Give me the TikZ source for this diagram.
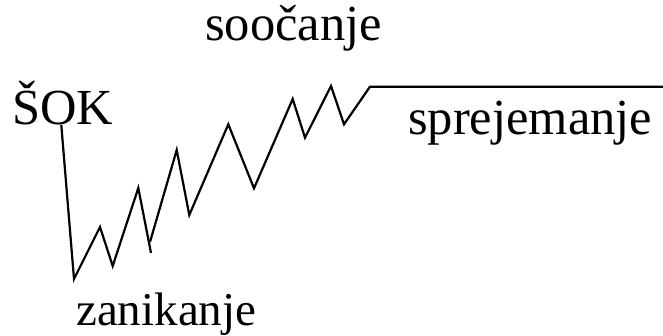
\documentclass[tikz,border=0pt]{standalone}
\usepackage{fontspec}
\setmainfont{Liberation Serif}

\begin{document}
\begin{tikzpicture}[x=1pt, y=-1pt, every node/.style={font=\fontsize{50.5}{50.5}\selectfont, inner sep=0pt, anchor=base west}]
\useasboundingbox (0,0) rectangle (663,336);

% labels
\node (sok) at (12,125) {ŠOK};
\node (soocanje) at (205,41) {soočanje};
\node (sprejemanje) at (408,135) {sprejemanje};
\node[font=\fontsize{47}{47}\selectfont] (zanikanje) at (76,325) {zanikanje};

% curve
\draw[line width=2.2pt, line join=miter] (61.3,125) -- (74,279) -- (100,227) -- (112.7,266) -- (138.3,188) -- (151,253);
\draw[line width=2.2pt, line join=miter] (150,242) -- (176.7,150) -- (189.3,215) -- (228.3,124.3) -- (254,188.3) -- (292.7,99) -- (305,137.7) -- (331,86) -- (344,124.3) -- (370,86.7) -- (663,86.7);
\end{tikzpicture}
\end{document}
